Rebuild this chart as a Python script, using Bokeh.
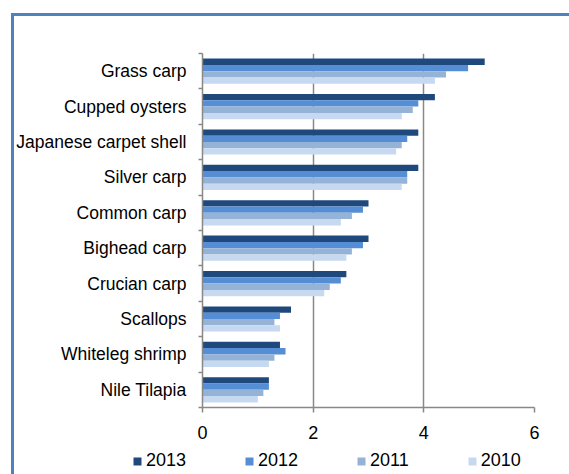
from bokeh.plotting import figure
from bokeh.layouts import column
from bokeh.models import (FixedTicker, Legend, LegendItem, ColumnDataSource)
from bokeh.embed import file_html
from bokeh.resources import INLINE

species = ["Grass carp", "Cupped oysters", "Japanese carpet shell", "Silver carp",
           "Common carp", "Bighead carp", "Crucian carp", "Scallops",
           "Whiteleg shrimp", "Nile Tilapia"]
years = ["2013", "2012", "2011", "2010"]
v2013 = [5.1, 4.2, 3.9, 3.9, 3.0, 3.0, 2.6, 1.6, 1.4, 1.2]
v2012 = [4.8, 3.9, 3.7, 3.7, 2.9, 2.9, 2.5, 1.4, 1.5, 1.2]
v2011 = [4.4, 3.8, 3.6, 3.7, 2.7, 2.7, 2.3, 1.3, 1.3, 1.1]
v2010 = [4.2, 3.6, 3.5, 3.6, 2.5, 2.6, 2.2, 1.4, 1.2, 1.0]
colors = ["#1F497D", "#558ED5", "#95B3D7", "#C6D9F1"]
x_ticks = [0, 2, 4, 6]

n = len(species)
centers = [n - 0.5 - i for i in range(n)]

p = figure(width=569, height=446, output_backend="svg", toolbar_location=None,
           x_range=(0, 6), y_range=(0, n),
           frame_width=332, frame_height=354,
           min_border_left=202, min_border_right=35, min_border_top=53, min_border_bottom=39)
p.outline_line_color = None
p.background_fill_color = "white"
p.border_fill_alpha = 0

bar_h = 0.178
offsets = [1.5 * bar_h, 0.5 * bar_h, -0.5 * bar_h, -1.5 * bar_h]
series = [v2013, v2012, v2011, v2010]
sources = []
for yr, vals, col, off in zip(years, series, colors, offsets):
    src = ColumnDataSource(dict(y=[c + off for c in centers], right=vals))
    p.hbar(y="y", right="right", left=0, height=bar_h, source=src,
           fill_color=col, line_color=None)
    sources.append(src)

# grid
p.ygrid.grid_line_color = None
p.xgrid.ticker = FixedTicker(ticks=x_ticks)
p.xgrid.grid_line_color = "#888888"
p.xgrid.grid_line_width = 1.5

# x axis
p.xaxis.ticker = FixedTicker(ticks=x_ticks)
p.xaxis.axis_line_color = "#888888"
p.xaxis.axis_line_width = 1.5
p.xaxis.major_tick_line_color = "#888888"
p.xaxis.major_tick_line_width = 1.5
p.xaxis.major_tick_out = 5
p.xaxis.major_tick_in = 0
p.xaxis.minor_tick_line_color = None
p.xaxis.major_label_text_font = "Liberation Sans"
p.xaxis.major_label_text_font_size = "18px"
p.xaxis.major_label_text_color = "black"
p.xaxis.major_label_standoff = 13

# y axis
p.yaxis.ticker = FixedTicker(ticks=centers, minor_ticks=list(range(n + 1)))
p.yaxis.major_label_overrides = {c: s for c, s in zip(centers, species)}
p.yaxis.axis_line_color = "#888888"
p.yaxis.axis_line_width = 1.5
p.yaxis.major_tick_line_color = None
p.yaxis.major_tick_out = 0
p.yaxis.major_tick_in = 0
p.yaxis.minor_tick_line_color = "#888888"
p.yaxis.minor_tick_line_width = 1.5
p.yaxis.minor_tick_out = 4
p.yaxis.minor_tick_in = 0
p.yaxis.major_label_text_font = "Liberation Sans"
p.yaxis.major_label_text_font_size = "17.5px"
p.yaxis.major_label_text_color = "black"
p.yaxis.major_label_standoff = 12

# legend strip
p2 = figure(width=569, height=28, output_backend="svg", toolbar_location=None,
            x_range=(0, 6), y_range=(0, n), min_border=0)
if "frame_align" in p2.properties():
    p2.frame_align = False
    p.frame_align = False
p2.axis.visible = False
p2.grid.grid_line_color = None
p2.outline_line_color = None
p2.background_fill_alpha = 0
p2.border_fill_alpha = 0
items = []
for yr, src, col in zip(years, sources, colors):
    r = p2.hbar(y="y", right="right", left=0, height=bar_h, source=src,
                fill_color=col, line_color=None, visible=False)
    items.append(LegendItem(label=yr, renderers=[r]))

legend = Legend(items=items, orientation="horizontal", location=(132, 3),
                glyph_width=10, glyph_height=10, label_standoff=4, spacing=58,
                padding=0, margin=0, border_line_color=None, background_fill_alpha=0,
                inactive_fill_alpha=0,
                label_text_font="Liberation Sans", label_text_font_size="18px",
                label_text_color="black")
p2.add_layout(legend, "center")

layout = column(p, p2, spacing=0)
blue = "linear-gradient(#4F81BD, #4F81BD)"
layout.styles = {
    "background-color": "white",
    "background-image": f"{blue}, {blue}",
    "background-size": "3px 470px, 570px 3px",
    "background-position": "11px 13px, 11px 13px",
    "background-repeat": "no-repeat",
}

open("out.html", "w").write(file_html(layout, INLINE))
